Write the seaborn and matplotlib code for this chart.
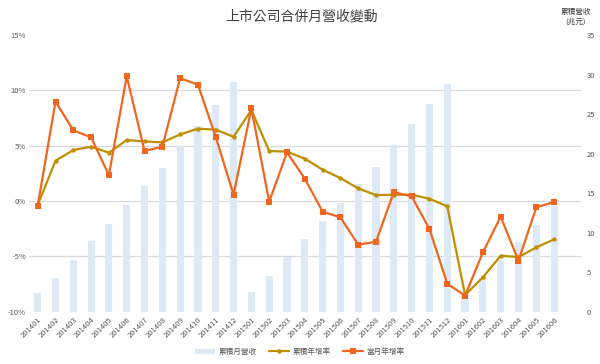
import numpy as np
import pandas as pd
import matplotlib
matplotlib.use("Agg")
import matplotlib.pyplot as plt
from matplotlib.patches import Patch
from matplotlib.lines import Line2D
import seaborn as sns

months = ["201401", "201402", "201403", "201404", "201405", "201406",
          "201407", "201408", "201409", "201410", "201411", "201412",
          "201501", "201502", "201503", "201504", "201505", "201506",
          "201507", "201508", "201509", "201510", "201511", "201512",
          "201601", "201602", "201603", "201604", "201605", "201606"]

# 累積月營收 (兆元)
cum_revenue = [2.4, 4.3, 6.6, 8.9, 11.1, 13.5, 15.9, 18.2, 21.0, 23.5, 26.2, 29.0,
               2.5, 4.5, 6.9, 9.2, 11.5, 13.8, 16.1, 18.3, 21.1, 23.7, 26.3, 28.8,
               2.2, 4.3, 6.6, 8.8, 11.0, 13.4]

# 累積年增率 (%)
cum_yoy = [-0.36, 3.64, 4.61, 4.91, 4.37, 5.51, 5.39, 5.30, 6.02, 6.54, 6.45, 5.81,
           8.22, 4.52, 4.46, 3.83, 2.83, 2.08, 1.14, 0.54, 0.57, 0.57, 0.21, -0.48,
           -8.49, -6.90, -4.94, -5.06, -4.19, -3.46]

# 當月年增率 (%)
month_yoy = [-0.42, 8.98, 6.39, 5.75, 2.35, 11.27, 4.52, 4.91, 11.11, 10.51, 5.78, 0.57,
             8.37, -0.06, 4.40, 2.02, -0.96, -1.48, -3.95, -3.67, 0.81, 0.42, -2.53, -7.47,
             -8.55, -4.64, -1.42, -5.39, -0.57, -0.09]

pct_ticks = [-10, -5, 0, 5, 10, 15]
rev_ticks = [0, 5, 10, 15, 20, 25, 30, 35]

title = "上市公司合併月營收變動"
right_label = "累積營收\n(兆元)"
legend_labels = ["累積月營收", "累積年增率", "當月年增率"]

bar_color = "#DDEAF6"
gold = "#BF8F00"
orange = "#F0661E"
grid_color = "#D9D9D9"
text_color = "#595959"

sns.set_theme(style="white")
plt.rcParams["font.family"] = ["Noto Sans CJK TC", "DejaVu Sans"]

df = pd.DataFrame({"month": months, "rev": cum_revenue,
                   "cum": cum_yoy, "mon": month_yoy})

fig = plt.figure(figsize=(6.0, 3.64), dpi=100)
ax_bar = fig.add_axes([0.048, 0.1437, 0.92, 0.76])
ax_line = ax_bar.twinx()

# bars on right axis
sns.barplot(data=df, x="month", y="rev", ax=ax_bar, color=bar_color,
            width=0.4, saturation=1, edgecolor="none")
ax_bar.set_ylim(0, 35)
ax_bar.yaxis.tick_right()
ax_bar.yaxis.set_label_position("right")
ax_bar.set_yticks(rev_ticks)
# gridlines that align with the percentage ticks
grid_pos = [(p - pct_ticks[0]) / (pct_ticks[-1] - pct_ticks[0]) * 35 for p in pct_ticks]
ax_bar.set_yticks(grid_pos, minor=True)
ax_bar.grid(False)
ax_bar.grid(which="minor", axis="y", color=grid_color, linewidth=0.9)
ax_bar.set_axisbelow(True)
ax_bar.tick_params(axis="y", which="minor", length=0)
ax_bar.tick_params(axis="y", which="major", length=0, labelsize=5.5,
                   labelcolor=text_color, pad=4)
ax_bar.set_ylabel("")
ax_bar.set_xlabel("")

# lines on left (percent) axis
pos = np.arange(len(months))
sns.lineplot(x=pos, y=df["cum"], ax=ax_line, color=gold, linewidth=1.6,
             marker="o", markersize=3.2, markeredgewidth=0, legend=False)
sns.lineplot(x=pos, y=df["mon"], ax=ax_line, color=orange, linewidth=1.6,
             marker="s", markersize=5, markeredgewidth=0, legend=False)
ax_line.set_ylim(pct_ticks[0], pct_ticks[-1])
ax_line.yaxis.tick_left()
ax_line.set_yticks(pct_ticks)
ax_line.set_yticklabels([f"{t}%" for t in pct_ticks])
ax_line.tick_params(axis="y", length=0, labelsize=5.5, labelcolor=text_color, pad=2)
ax_line.set_ylabel("")
ax_line.set_xlabel("")
ax_line.grid(False)
ax_line.tick_params(axis="x", labelbottom=False, length=0)

ax_bar.set_xlim(-0.5, len(months) + 0.5)
ax_bar.set_xticks(pos)
ax_bar.set_xticklabels(months, rotation=45, ha="right", rotation_mode="anchor")
ax_bar.tick_params(axis="x", length=0, labelsize=5.5, labelcolor=text_color, pad=3)

for a in (ax_bar, ax_line):
    for s in a.spines.values():
        s.set_visible(False)

fig.text(0.503, 0.955, title, ha="center", va="center", fontsize=10,
         color="#404040")
fig.text(0.96, 0.955, right_label, ha="center", va="center", fontsize=5.5,
         color="#404040", linespacing=1.3)

handles = [Patch(facecolor=bar_color, edgecolor="none"),
           Line2D([], [], color=gold, linewidth=1.6, marker="o", markersize=3.2,
                  markeredgewidth=0),
           Line2D([], [], color=orange, linewidth=1.6, marker="s", markersize=5,
                  markeredgewidth=0)]
fig.legend(handles, legend_labels, loc="center", bbox_to_anchor=(0.5, 0.033),
           ncol=3, frameon=False, fontsize=5.5, handlelength=2.6,
           handleheight=0.7, columnspacing=1.6, handletextpad=0.5,
           labelcolor=text_color)

fig.savefig("out.png", dpi=100)
